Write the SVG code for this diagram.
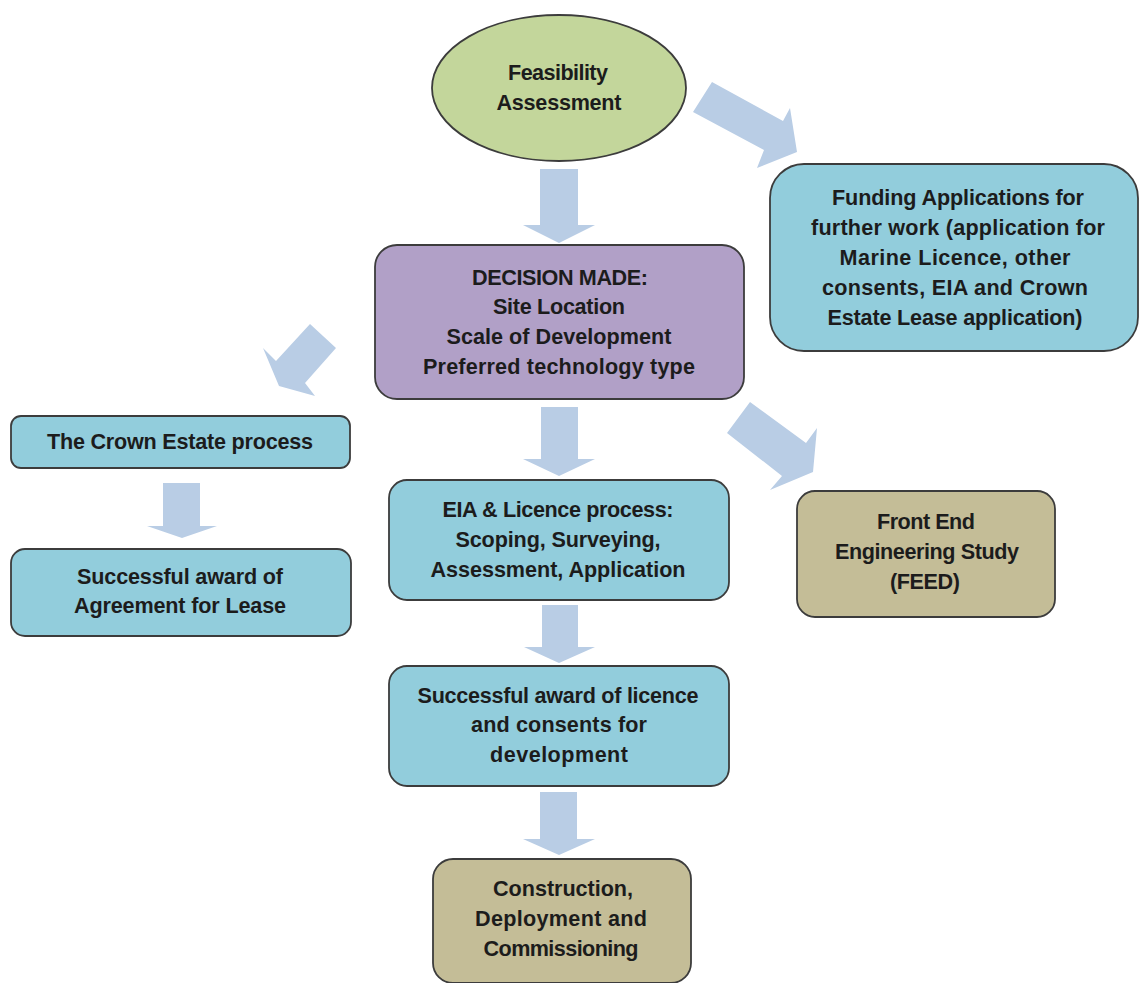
<svg xmlns="http://www.w3.org/2000/svg" width="1139" height="983" viewBox="0 0 1139 983">
<style>
.bg{fill:#ffffff}
.box{stroke:#3c3c3c;stroke-width:1.8}
.blue{fill:#92cddc}
.purple{fill:#b1a0c7}
.green{fill:#c3d69b}
.tan{fill:#c4bd97}
.arr{fill:#b9cde5}
text{font-family:"Liberation Sans",Arial,sans-serif;font-weight:bold;font-size:21.6px;fill:#1c1c1c;text-anchor:middle}
</style>
<rect class="bg" x="0" y="0" width="1139" height="983"/>
<g id="connectors">
<polygon class="arr" points="540,169 578,169 578,225 595,225 559,243 523,225 540,225"/>
<polygon class="arr" points="541,407 578,407 578,459 595,459 559,476 523,459 541,459"/>
<polygon class="arr" points="542,605 578,605 578,647 595,647 559,663 524,647 542,647"/>
<polygon class="arr" points="540,792 577,792 577,839 595,839 559,855 523,839 540,839"/>
<polygon class="arr" points="163,483 200,483 200,526 217,526 182,538 147,526 163,526"/>
<polygon class="arr" points="712,82 783,121 790,108 797,152 757,168 764,150 693,112"/>
<polygon class="arr" points="310,324 336,348 305,383 315,396 279,386 263,348 276,361"/>
<polygon class="arr" points="750,402 806,443 817,428 813,472 770,490 782,476 727,433"/>
</g>
<g id="feasibility">
<ellipse class="box green" cx="559" cy="88" rx="127" ry="73"/>
<text x="558" y="80" textLength="100" lengthAdjust="spacing">Feasibility</text>
<text x="559" y="110" textLength="125" lengthAdjust="spacing">Assessment</text>
</g>
<g id="funding">
<rect class="box blue" x="770" y="164" width="368" height="187" rx="34"/>
<text x="958" y="205" textLength="252" lengthAdjust="spacing">Funding Applications for</text>
<text x="958" y="235" textLength="294" lengthAdjust="spacing">further work (application for</text>
<text x="955" y="265" textLength="231" lengthAdjust="spacing">Marine Licence, other</text>
<text x="955" y="295" textLength="266" lengthAdjust="spacing">consents, EIA and Crown</text>
<text x="955" y="325" textLength="255" lengthAdjust="spacing">Estate Lease application)</text>
</g>
<g id="decision">
<rect class="box purple" x="375" y="245" width="369" height="154" rx="22"/>
<text x="560" y="285" textLength="176" lengthAdjust="spacing">DECISION MADE:</text>
<text x="559" y="314" textLength="132" lengthAdjust="spacing">Site Location</text>
<text x="559" y="344" textLength="225" lengthAdjust="spacing">Scale of Development</text>
<text x="559" y="374" textLength="272" lengthAdjust="spacing">Preferred technology type</text>
</g>
<g id="crown">
<rect class="box blue" x="11" y="416" width="339" height="52" rx="10"/>
<text x="180" y="449" textLength="266" lengthAdjust="spacing">The Crown Estate process</text>
</g>
<g id="agreement">
<rect class="box blue" x="11" y="549" width="340" height="87" rx="14"/>
<text x="180" y="584" textLength="206" lengthAdjust="spacing">Successful award of</text>
<text x="180" y="613" textLength="212" lengthAdjust="spacing">Agreement for Lease</text>
</g>
<g id="eia">
<rect class="box blue" x="389" y="480" width="340" height="120" rx="18"/>
<text x="558" y="517" textLength="231" lengthAdjust="spacing">EIA &amp; Licence process:</text>
<text x="558" y="547" textLength="205" lengthAdjust="spacing">Scoping, Surveying,</text>
<text x="558" y="577" textLength="255" lengthAdjust="spacing">Assessment, Application</text>
</g>
<g id="licence">
<rect class="box blue" x="389" y="666" width="340" height="120" rx="18"/>
<text x="558" y="703" textLength="281" lengthAdjust="spacing">Successful award of licence</text>
<text x="559" y="732" textLength="176" lengthAdjust="spacing">and consents for</text>
<text x="559" y="762" textLength="138" lengthAdjust="spacing">development</text>
</g>
<g id="feed">
<rect class="box tan" x="797" y="491" width="258" height="126" rx="18"/>
<text x="926" y="529" textLength="98" lengthAdjust="spacing">Front End</text>
<text x="927" y="559" textLength="184" lengthAdjust="spacing">Engineering Study</text>
<text x="925" y="589" textLength="70" lengthAdjust="spacing">(FEED)</text>
</g>
<g id="construction">
<rect class="box tan" x="433" y="859" width="258" height="124" rx="20"/>
<text x="563" y="896" textLength="140" lengthAdjust="spacing">Construction,</text>
<text x="561" y="926" textLength="172" lengthAdjust="spacing">Deployment and</text>
<text x="561" y="956" textLength="155" lengthAdjust="spacing">Commissioning</text>
</g>
</svg>
